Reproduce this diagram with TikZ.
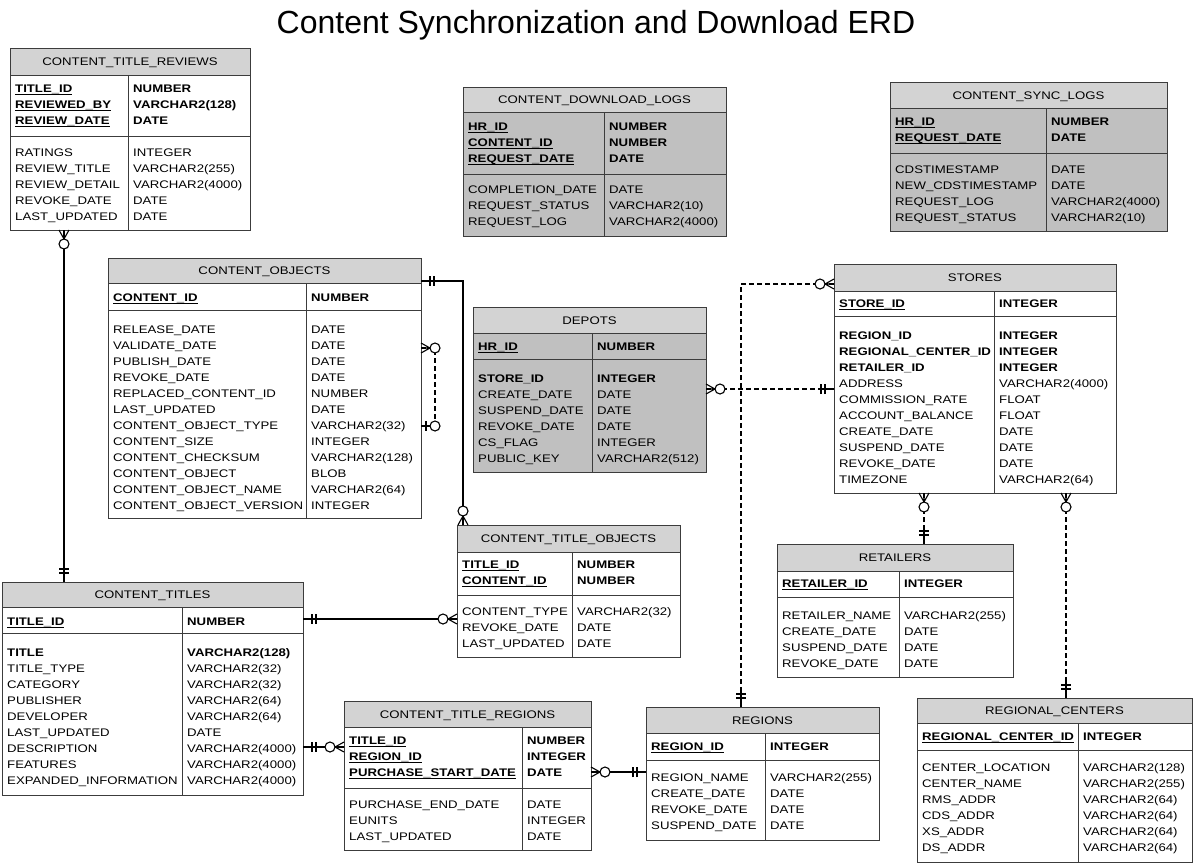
\documentclass[tikz,border=0pt]{standalone}
\usepackage{fontspec}
\setmainfont{Liberation Sans}[FakeStretch=1.2]
\newfontfamily\titlefont{Liberation Sans}
\definecolor{hdrgray}{RGB}{211,211,211}
\definecolor{bodygray}{RGB}{192,192,192}
\definecolor{edgegray}{RGB}{60,60,60}
% primary key: bold and underlined
\newcommand\pk[1]{\setbox0=\hbox{\bfseries #1}\rlap{\rule[-3.4pt]{\wd0}{1.1pt}}\box0}
\tikzset{
  tbl/.style={draw=edgegray, line width=1pt, anchor=north west, inner sep=0pt, outer sep=0pt},
  graytbl/.style={tbl, fill=bodygray},
  hdr/.style={draw=edgegray, line width=1pt, fill=hdrgray},
  sep/.style={draw=edgegray, line width=1pt},
  fld/.style={anchor=base west, inner sep=0pt, font=\fontsize{11}{16}\selectfont},
  ttl/.style={anchor=base, inner sep=0pt, font=\fontsize{11}{16}\selectfont},
  rel/.style={line width=1.3pt},
  optrel/.style={line width=1.3pt, dash pattern=on 5pt off 3pt},
  zmany/.pic={\draw[solid, line width=1.1pt] (0,-5) -- (9,0) -- (0,5) (0,0) -- (9,0);
              \draw[solid, line width=1.1pt, fill=white] (14,0) circle[radius=5pt];},
  one/.pic={\draw[solid, line width=1.1pt] (0,0) -- (16,0) (9,-5) -- (9,5) (13,-5) -- (13,5);},
  zone/.pic={\draw[solid, line width=1.1pt] (0,0) -- (9,0) (5,-5) -- (5,5);
             \draw[solid, line width=1.1pt, fill=white] (14,0) circle[radius=5pt];}
}
\begin{document}
\begin{tikzpicture}[x=1pt, y=-1pt]
\useasboundingbox[fill=white] (0,0) rectangle (1193,863);
\node[font=\titlefont\fontsize{32}{38}\selectfont, anchor=base, inner sep=0pt] (title) at (596,33) {Content Synchronization and Download ERD};

% CONTENT_TITLE_REVIEWS
\node[tbl, minimum width=240pt, minimum height=182pt] (ctrev) at (10,48) {};
\draw[hdr] (ctrev.north west) rectangle (250,75);
\draw[sep] (128,75) -- (128,230) (10,136) -- (250,136);
\node[ttl] (ctrev-h) at (130,65.5) {CONTENT\_TITLE\_REVIEWS};
\foreach \n/\t [count=\i] in {\pk{TITLE\_ID}/\textbf{NUMBER}, \pk{REVIEWED\_BY}/\textbf{VARCHAR2(128)}, \pk{REVIEW\_DATE}/\textbf{DATE}}
  {\node[fld] (ctrev-k\i) at (15,76+16*\i) {\n}; \node[fld] (ctrev-kt\i) at (133,76+16*\i) {\t};}
\foreach \n/\t [count=\i] in {RATINGS/INTEGER, REVIEW\_TITLE/VARCHAR2(255), REVIEW\_DETAIL/VARCHAR2(4000), REVOKE\_DATE/DATE, LAST\_UPDATED/DATE}
  {\node[fld] (ctrev-a\i) at (15,140+16*\i) {\n}; \node[fld] (ctrev-at\i) at (133,140+16*\i) {\t};}

% CONTENT_DOWNLOAD_LOGS
\node[graytbl, minimum width=263pt, minimum height=149pt] (cdlogs) at (463,87) {};
\draw[hdr] (cdlogs.north west) rectangle (726,112);
\draw[sep] (604,112) -- (604,236) (463,174) -- (726,174);
\node[ttl] (cdlogs-h) at (594.5,103.5) {CONTENT\_DOWNLOAD\_LOGS};
\foreach \n/\t [count=\i] in {\pk{HR\_ID}/\textbf{NUMBER}, \pk{CONTENT\_ID}/\textbf{NUMBER}, \pk{REQUEST\_DATE}/\textbf{DATE}}
  {\node[fld] (cdlogs-k\i) at (468,114+16*\i) {\n}; \node[fld] (cdlogs-kt\i) at (609,114+16*\i) {\t};}
\foreach \n/\t [count=\i] in {COMPLETION\_DATE/DATE, REQUEST\_STATUS/VARCHAR2(10), REQUEST\_LOG/VARCHAR2(4000)}
  {\node[fld] (cdlogs-a\i) at (468,177+16*\i) {\n}; \node[fld] (cdlogs-at\i) at (609,177+16*\i) {\t};}

% CONTENT_SYNC_LOGS
\node[graytbl, minimum width=277pt, minimum height=149pt] (cslogs) at (890,82) {};
\draw[hdr] (cslogs.north west) rectangle (1167,108);
\draw[sep] (1046,108) -- (1046,231) (890,153) -- (1167,153);
\node[ttl] (cslogs-h) at (1028.5,99) {CONTENT\_SYNC\_LOGS};
\foreach \n/\t [count=\i] in {\pk{HR\_ID}/\textbf{NUMBER}, \pk{REQUEST\_DATE}/\textbf{DATE}}
  {\node[fld] (cslogs-k\i) at (895,109+16*\i) {\n}; \node[fld] (cslogs-kt\i) at (1051,109+16*\i) {\t};}
\foreach \n/\t [count=\i] in {CDSTIMESTAMP/DATE, NEW\_CDSTIMESTAMP/DATE, REQUEST\_LOG/VARCHAR2(4000), REQUEST\_STATUS/VARCHAR2(10)}
  {\node[fld] (cslogs-a\i) at (895,157+16*\i) {\n}; \node[fld] (cslogs-at\i) at (1051,157+16*\i) {\t};}

% CONTENT_OBJECTS
\node[tbl, minimum width=313pt, minimum height=260pt] (cobj) at (108,258) {};
\draw[hdr] (cobj.north west) rectangle (421,283);
\draw[sep] (306,283) -- (306,518) (108,310) -- (421,310);
\node[ttl] (cobj-h) at (264.5,274.5) {CONTENT\_OBJECTS};
\node[fld] (cobj-k1) at (113,301) {\pk{CONTENT\_ID}};
\node[fld] (cobj-kt1) at (311,301) {\textbf{NUMBER}};
\foreach \n/\t [count=\i] in {RELEASE\_DATE/DATE, VALIDATE\_DATE/DATE, PUBLISH\_DATE/DATE, REVOKE\_DATE/DATE,
    REPLACED\_CONTENT\_ID/NUMBER, LAST\_UPDATED/DATE, CONTENT\_OBJECT\_TYPE/VARCHAR2(32), CONTENT\_SIZE/INTEGER,
    CONTENT\_CHECKSUM/VARCHAR2(128), CONTENT\_OBJECT/BLOB, CONTENT\_OBJECT\_NAME/VARCHAR2(64), CONTENT\_OBJECT\_VERSION/INTEGER}
  {\node[fld] (cobj-a\i) at (113,317+16*\i) {\n}; \node[fld] (cobj-at\i) at (311,317+16*\i) {\t};}

% DEPOTS
\node[graytbl, minimum width=233pt, minimum height=165pt] (depots) at (473,307) {};
\draw[hdr] (depots.north west) rectangle (706,333);
\draw[sep] (592,333) -- (592,472) (473,359) -- (706,359);
\node[ttl] (depots-h) at (589.5,324) {DEPOTS};
\node[fld] (depots-k1) at (478,350) {\pk{HR\_ID}};
\node[fld] (depots-kt1) at (597,350) {\textbf{NUMBER}};
\foreach \n/\t [count=\i] in {\textbf{STORE\_ID}/\textbf{INTEGER}, CREATE\_DATE/DATE, SUSPEND\_DATE/DATE, REVOKE\_DATE/DATE,
    CS\_FLAG/INTEGER, PUBLIC\_KEY/VARCHAR2(512)}
  {\node[fld] (depots-a\i) at (478,366+16*\i) {\n}; \node[fld] (depots-at\i) at (597,366+16*\i) {\t};}

% STORES
\node[tbl, minimum width=282pt, minimum height=229pt] (stores) at (834,264) {};
\draw[hdr] (stores.north west) rectangle (1116,291);
\draw[sep] (994,291) -- (994,493) (834,316) -- (1116,316);
\node[ttl] (stores-h) at (975,281.5) {STORES};
\node[fld] (stores-k1) at (839,307) {\pk{STORE\_ID}};
\node[fld] (stores-kt1) at (999,307) {\textbf{INTEGER}};
\foreach \n/\t [count=\i] in {\textbf{REGION\_ID}/\textbf{INTEGER}, \textbf{REGIONAL\_CENTER\_ID}/\textbf{INTEGER},
    \textbf{RETAILER\_ID}/\textbf{INTEGER}, ADDRESS/VARCHAR2(4000), COMMISSION\_RATE/FLOAT, ACCOUNT\_BALANCE/FLOAT,
    CREATE\_DATE/DATE, SUSPEND\_DATE/DATE, REVOKE\_DATE/DATE, TIMEZONE/VARCHAR2(64)}
  {\node[fld] (stores-a\i) at (839,323+16*\i) {\n}; \node[fld] (stores-at\i) at (999,323+16*\i) {\t};}

% CONTENT_TITLE_OBJECTS
\node[tbl, minimum width=223pt, minimum height=132pt] (ctobj) at (457,525) {};
\draw[hdr] (ctobj.north west) rectangle (680,552);
\draw[sep] (572,552) -- (572,657) (457,595) -- (680,595);
\node[ttl] (ctobj-h) at (568.5,542.5) {CONTENT\_TITLE\_OBJECTS};
\foreach \n/\t [count=\i] in {\pk{TITLE\_ID}/\textbf{NUMBER}, \pk{CONTENT\_ID}/\textbf{NUMBER}}
  {\node[fld] (ctobj-k\i) at (462,552+16*\i) {\n}; \node[fld] (ctobj-kt\i) at (577,552+16*\i) {\t};}
\foreach \n/\t [count=\i] in {CONTENT\_TYPE/VARCHAR2(32), REVOKE\_DATE/DATE, LAST\_UPDATED/DATE}
  {\node[fld] (ctobj-a\i) at (462,599+16*\i) {\n}; \node[fld] (ctobj-at\i) at (577,599+16*\i) {\t};}

% CONTENT_TITLES
\node[tbl, minimum width=301pt, minimum height=213pt] (ctitles) at (2,582) {};
\draw[hdr] (ctitles.north west) rectangle (303,607);
\draw[sep] (182,607) -- (182,795) (2,633) -- (303,633);
\node[ttl] (ctitles-h) at (152.5,598.5) {CONTENT\_TITLES};
\node[fld] (ctitles-k1) at (7,625) {\pk{TITLE\_ID}};
\node[fld] (ctitles-kt1) at (187,625) {\textbf{NUMBER}};
\foreach \n/\t [count=\i] in {\textbf{TITLE}/\textbf{VARCHAR2(128)}, TITLE\_TYPE/VARCHAR2(32), CATEGORY/VARCHAR2(32),
    PUBLISHER/VARCHAR2(64), DEVELOPER/VARCHAR2(64), LAST\_UPDATED/DATE, DESCRIPTION/VARCHAR2(4000),
    FEATURES/VARCHAR2(4000), EXPANDED\_INFORMATION/VARCHAR2(4000)}
  {\node[fld] (ctitles-a\i) at (7,640+16*\i) {\n}; \node[fld] (ctitles-at\i) at (187,640+16*\i) {\t};}

% CONTENT_TITLE_REGIONS
\node[tbl, minimum width=247pt, minimum height=149pt] (ctreg) at (344,701) {};
\draw[hdr] (ctreg.north west) rectangle (591,727);
\draw[sep] (522,727) -- (522,850) (344,788) -- (591,788);
\node[ttl] (ctreg-h) at (467.5,718) {CONTENT\_TITLE\_REGIONS};
\foreach \n/\t [count=\i] in {\pk{TITLE\_ID}/\textbf{NUMBER}, \pk{REGION\_ID}/\textbf{INTEGER}, \pk{PURCHASE\_START\_DATE}/\textbf{DATE}}
  {\node[fld] (ctreg-k\i) at (349,728+16*\i) {\n}; \node[fld] (ctreg-kt\i) at (527,728+16*\i) {\t};}
\foreach \n/\t [count=\i] in {PURCHASE\_END\_DATE/DATE, EUNITS/INTEGER, LAST\_UPDATED/DATE}
  {\node[fld] (ctreg-a\i) at (349,792+16*\i) {\n}; \node[fld] (ctreg-at\i) at (527,792+16*\i) {\t};}

% REGIONS
\node[tbl, minimum width=233pt, minimum height=133pt] (regions) at (646,707) {};
\draw[hdr] (regions.north west) rectangle (879,733);
\draw[sep] (765,733) -- (765,840) (646,760) -- (879,760);
\node[ttl] (regions-h) at (762.5,724) {REGIONS};
\node[fld] (regions-k1) at (651,750) {\pk{REGION\_ID}};
\node[fld] (regions-kt1) at (770,750) {\textbf{INTEGER}};
\foreach \n/\t [count=\i] in {REGION\_NAME/VARCHAR2(255), CREATE\_DATE/DATE, REVOKE\_DATE/DATE, SUSPEND\_DATE/DATE}
  {\node[fld] (regions-a\i) at (651,765+16*\i) {\n}; \node[fld] (regions-at\i) at (770,765+16*\i) {\t};}

% RETAILERS
\node[tbl, minimum width=236pt, minimum height=133pt] (retailers) at (777,544) {};
\draw[hdr] (retailers.north west) rectangle (1013,571);
\draw[sep] (899,571) -- (899,677) (777,597) -- (1013,597);
\node[ttl] (retailers-h) at (895,561.5) {RETAILERS};
\node[fld] (retailers-k1) at (782,587) {\pk{RETAILER\_ID}};
\node[fld] (retailers-kt1) at (904,587) {\textbf{INTEGER}};
\foreach \n/\t [count=\i] in {RETAILER\_NAME/VARCHAR2(255), CREATE\_DATE/DATE, SUSPEND\_DATE/DATE, REVOKE\_DATE/DATE}
  {\node[fld] (retailers-a\i) at (782,603+16*\i) {\n}; \node[fld] (retailers-at\i) at (904,603+16*\i) {\t};}

% REGIONAL_CENTERS
\node[tbl, minimum width=275pt, minimum height=164pt] (rcenters) at (917,698) {};
\draw[hdr] (rcenters.north west) rectangle (1192,723);
\draw[sep] (1078,723) -- (1078,862) (917,750) -- (1192,750);
\node[ttl] (rcenters-h) at (1054.5,714.5) {REGIONAL\_CENTERS};
\node[fld] (rcenters-k1) at (922,740) {\pk{REGIONAL\_CENTER\_ID}};
\node[fld] (rcenters-kt1) at (1083,740) {\textbf{INTEGER}};
\foreach \n/\t [count=\i] in {CENTER\_LOCATION/VARCHAR2(128), CENTER\_NAME/VARCHAR2(255), RMS\_ADDR/VARCHAR2(64),
    CDS\_ADDR/VARCHAR2(64), XS\_ADDR/VARCHAR2(64), DS\_ADDR/VARCHAR2(64)}
  {\node[fld] (rcenters-a\i) at (922,755+16*\i) {\n}; \node[fld] (rcenters-at\i) at (1083,755+16*\i) {\t};}

% relationships
\draw[rel] (64,0 |- ctrev.south) -- (64,0 |- ctitles.north);
\draw[rel] (cobj.east |- 0,281) -| (463,0 |- ctobj.north);
\draw[optrel] (cobj.east |- 0,348) -| (435,426) -- (cobj.east |- 0,426);
\draw[rel] (ctitles.east |- 0,619) -- (ctobj.west |- 0,619);
\draw[rel] (ctitles.east |- 0,747) -- (ctreg.west |- 0,747);
\draw[rel] (ctreg.east |- 0,772) -- (regions.west |- 0,772);
\draw[optrel] (depots.east |- 0,389) -- (stores.west |- 0,389);
\draw[optrel] (stores.west |- 0,284) -| (741,0 |- regions.north);
\draw[optrel] (924,0 |- stores.south) -- (924,0 |- retailers.north);
\draw[optrel] (1066,0 |- stores.south) -- (1066,0 |- rcenters.north);

% cardinality ends
\pic[rotate=-90] at (64,0 |- ctrev.south) {zmany};
\pic[rotate=90] at (64,0 |- ctitles.north) {one};
\pic at (cobj.east |- 0,281) {one};
\pic[rotate=90] at (463,0 |- ctobj.north) {zmany};
\pic at (cobj.east |- 0,348) {zmany};
\pic at (cobj.east |- 0,426) {zone};
\pic at (ctitles.east |- 0,619) {one};
\pic[rotate=180] at (ctobj.west |- 0,619) {zmany};
\pic at (ctitles.east |- 0,747) {one};
\pic[rotate=180] at (ctreg.west |- 0,747) {zmany};
\pic at (ctreg.east |- 0,772) {zmany};
\pic[rotate=180] at (regions.west |- 0,772) {one};
\pic at (depots.east |- 0,389) {zmany};
\pic[rotate=180] at (stores.west |- 0,389) {one};
\pic[rotate=180] at (stores.west |- 0,284) {zmany};
\pic[rotate=90] at (741,0 |- regions.north) {one};
\pic[rotate=-90] at (924,0 |- stores.south) {zmany};
\pic[rotate=90] at (924,0 |- retailers.north) {one};
\pic[rotate=-90] at (1066,0 |- stores.south) {zmany};
\pic[rotate=90] at (1066,0 |- rcenters.north) {one};
\end{tikzpicture}
\end{document}
